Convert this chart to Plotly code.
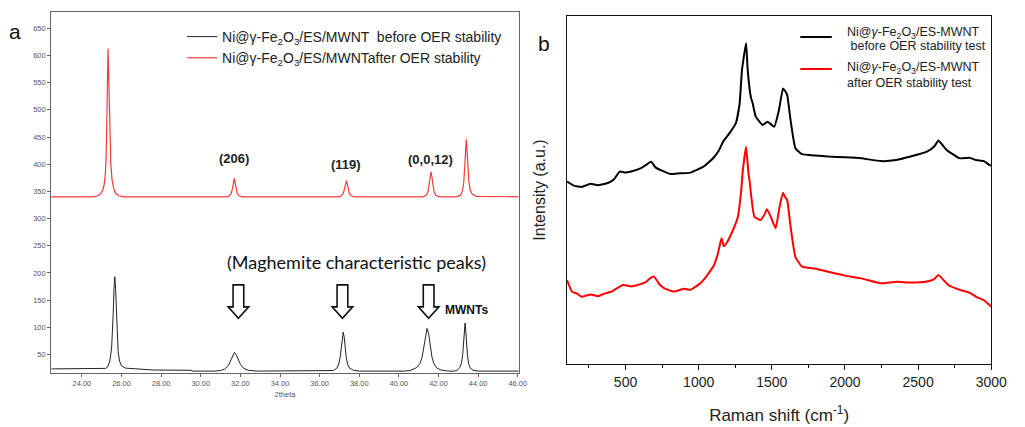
import plotly.graph_objects as go

# ---------------- Panel a : XRD ----------------
xrd_before_x = [22.45, 24.5, 25.2, 25.3, 25.41, 25.5, 25.54, 25.58, 25.62, 25.66, 25.70, 25.74, 25.78, 25.83, 25.9, 26.0, 26.2,
                27.5, 27.6, 29.5, 29.6, 30.7, 31.0, 31.2, 31.4, 31.5, 31.6, 31.7, 31.8, 31.9, 32.0, 32.15, 32.4, 32.8,
                36.5, 36.7, 36.87, 36.97, 37.04, 37.09, 37.14, 37.19, 37.24, 37.29, 37.34, 37.41, 37.51, 37.7, 38.0,
                40.3, 40.6, 40.9, 41.07, 41.17, 41.27, 41.34, 41.42, 41.5, 41.57, 41.67, 41.77, 41.92, 42.12, 42.5,
                42.8, 42.94, 43.08, 43.16, 43.22, 43.26, 43.30, 43.34, 43.38, 43.42, 43.46, 43.52, 43.6, 43.74, 44.0, 46.05]
xrd_before_y = [23.5, 23.5, 24.5, 27, 38, 62, 85, 125, 170, 193, 170, 125, 85, 55, 38, 29, 25,
                23, 21.5, 21, 19.5, 19.5, 20.5, 23, 30, 38, 48, 54, 49, 40, 32, 25, 21, 19.5,
                19.5, 20.5, 25, 33, 46, 62, 82, 91, 82, 62, 45, 32, 25, 21, 19.5,
                19.5, 21, 26, 34, 45, 65, 85, 98, 88, 68, 45, 33, 25, 21.5, 19.5,
                19.5, 21, 26, 35, 50, 68, 92, 108, 92, 68, 48, 33, 25, 21, 19.5, 19.5]

xrd_after_x = [22.45, 24.6, 24.8, 24.95, 25.05, 25.12, 25.18, 25.22, 25.26, 25.29, 25.32, 25.35, 25.38, 25.42, 25.46, 25.52,
               25.6, 25.7, 25.85, 26.1, 31.3, 31.45, 31.54, 31.6, 31.65, 31.69, 31.73, 31.78, 31.84, 31.93, 32.1,
               36.95, 37.1, 37.2, 37.26, 37.31, 37.35, 37.39, 37.44, 37.5, 37.6, 37.75,
               41.2, 41.38, 41.47, 41.53, 41.58, 41.62, 41.66, 41.71, 41.77, 41.86, 42.05,
               42.9, 43.1, 43.2, 43.27, 43.32, 43.36, 43.4, 43.44, 43.48, 43.53, 43.6, 43.7, 43.9, 46.05]
xrd_after_y = [340, 340, 342, 346, 352, 362, 380, 410, 480, 560, 613, 570, 500, 440, 400, 372,
               356, 347, 342, 340, 340, 342, 347, 355, 366, 374, 366, 355, 346, 342, 340,
               340, 342, 347, 355, 365, 370, 364, 353, 346, 342, 340,
               340, 343, 350, 362, 378, 386, 378, 362, 350, 343, 340,
               340, 343, 350, 365, 395, 425, 446, 425, 395, 368, 352, 345, 341, 340]

hkl_labels = ["(206)", "(119)", "(0,0,12)"]
hkl_x = [31.69, 37.35, 41.58]
hkl_y = [411, 400, 409]
arrow_x = [31.9, 37.15, 41.5]

# ---------------- Panel b : Raman ----------------
raman_before_x = [100, 150, 201, 260, 311, 379, 420, 460, 500, 538, 606, 640, 675, 705, 741, 808, 870, 943, 1032, 1100,
                  1140, 1167, 1212, 1255, 1280, 1296, 1324, 1335, 1356, 1369, 1390, 1437, 1471, 1516, 1549, 1576,
                  1590, 1605, 1628, 1661, 1706, 1800, 1886, 2000, 2111, 2245, 2350, 2448, 2560, 2610, 2639, 2665,
                  2695, 2785, 2850, 2897, 2950, 2987, 3000]
raman_before_y = [52.4, 51.2, 50.9, 51.8, 51.4, 52.0, 53.0, 55.3, 55.0, 55.3, 56.3, 57.2, 58.1, 56.5, 55.7, 54.6, 54.8, 55.0,
                  56.7, 59.2, 61.5, 63.9, 66.4, 69.3, 74.9, 84.5, 92.2, 84.5, 76.8, 74.9, 71.1, 68.7, 69.6, 68.2, 73.0,
                  79.2, 78.5, 77.3, 70.1, 62.0, 60.3, 59.9, 59.6, 59.4, 59.1, 58.3, 58.6, 59.6, 61.0, 62.5, 64.2, 63.0,
                  61.5, 59.1, 59.3, 58.6, 58.3, 57.2, 57.0]

raman_after_x = [100, 134, 170, 201, 260, 313, 360, 404, 482, 540, 583, 640, 670, 695, 730, 763, 830, 900, 943, 1000,
                 1032, 1100, 1130, 1156, 1172, 1190, 1235, 1268, 1290, 1302, 1324, 1340, 1347, 1381, 1425, 1450, 1466,
                 1493, 1526, 1553, 1576, 1590, 1605, 1628, 1661, 1706, 1800, 1886, 2000, 2111, 2245, 2350, 2448, 2560,
                 2610, 2639, 2706, 2785, 2850, 2897, 2950, 3000]
raman_after_y = [24.1, 20.8, 20.2, 19.3, 20.0, 19.5, 20.3, 20.8, 22.7, 22.3, 22.7, 23.6, 24.7, 25.1, 23.0, 21.8, 20.8, 21.6,
                 21.3, 22.8, 24.1, 28.0, 31.5, 36.1, 33.8, 34.7, 38.5, 42.3, 49.5, 55.7, 62.4, 55.0, 52.9, 42.3, 41.4, 43.0,
                 44.5, 42.3, 39.0, 45.2, 49.2, 48.0, 47.1, 39.5, 30.8, 28.0, 27.4, 26.5, 25.4, 24.6, 23.2, 23.6, 23.4,
                 23.7, 24.4, 25.6, 22.7, 21.3, 20.5, 19.3, 18.3, 16.5]

xrd_ticks = [24, 26, 28, 30, 32, 34, 36, 38, 40, 42, 44, 46]
raman_ticks = [500, 1000, 1500, 2000, 2500, 3000]

FONT = "Liberation Sans, Arial, sans-serif"
name_a1 = "Ni@γ-Fe<sub>2</sub>O<sub>3</sub>/ES/MWNT  before OER stability"
name_a2 = "Ni@γ-Fe<sub>2</sub>O<sub>3</sub>/ES/MWNTafter OER stability"
name_b1 = ["Ni@<i>γ</i>-Fe<sub>2</sub>O<sub>3</sub>/ES-MWNT", " before OER stability test"]
name_b2 = ["Ni@<i>γ</i>-Fe<sub>2</sub>O<sub>3</sub>/ES-MWNT", "after OER stability test"]

fig = go.Figure()
fig.add_trace(go.Scatter(x=xrd_before_x, y=xrd_before_y, mode="lines", name=name_a1,
                         line=dict(color="#222222", width=1), xaxis="x", yaxis="y"))
fig.add_trace(go.Scatter(x=xrd_after_x, y=xrd_after_y, mode="lines", name=name_a2,
                         line=dict(color="#f23a3a", width=1.2), xaxis="x", yaxis="y"))
fig.add_trace(go.Scatter(x=raman_before_x, y=raman_before_y, mode="lines", name="before", showlegend=False,
                         line=dict(color="#000000", width=2, shape="spline", smoothing=0.4), xaxis="x2", yaxis="y2"))
fig.add_trace(go.Scatter(x=raman_after_x, y=raman_after_y, mode="lines", name="after", showlegend=False,
                         line=dict(color="#ff0000", width=2, shape="spline", smoothing=0.4), xaxis="x2", yaxis="y2"))

annotations = []
for lab, hx, hy in zip(hkl_labels, hkl_x, hkl_y):
    annotations.append(dict(x=hx, y=hy, xref="x", yref="y", text=f"<b>{lab}</b>", showarrow=False,
                            font=dict(family=FONT, size=13, color="#222")))
annotations.append(dict(x=37.85, y=220, xref="x", yref="y", text="(Maghemite characteristic peaks)",
                        showarrow=False, font=dict(family="Lato, sans-serif", size=18, color="#111")))
annotations.append(dict(x=43.4, y=131, xref="x", yref="y", text="<b>MWNTs</b>", showarrow=False,
                        font=dict(family=FONT, size=12, color="#111")))
annotations.append(dict(x=15 / 1025, y=1 - 18 / 427, xref="paper", yref="paper", text="a", showarrow=False,
                        xanchor="center", font=dict(family=FONT, size=21, color="#111")))
annotations.append(dict(x=553 / 1025, y=1 - 30 / 427, xref="paper", yref="paper", text="b", showarrow=False,
                        xanchor="center", font=dict(family=FONT, size=21, color="#111")))

# panel b legend (drawn manually for exact placement)
shapes = []
leg_colors = ["#000000", "#ff0000"]
leg_line_y = [37, 69]
leg_text_y = [(33, 46), (68, 83)]
for names, col, ly, (t1, t2) in zip([name_b1, name_b2], leg_colors, leg_line_y, leg_text_y):
    shapes.append(dict(type="line", xref="paper", yref="paper", x0=813 / 1025, x1=845 / 1025,
                       y0=1 - ly / 427, y1=1 - ly / 427, line=dict(color=col, width=2)))
    for txt, ty in zip(names, (t1, t2)):
        annotations.append(dict(x=858 / 1025, y=1 - ty / 427, xref="paper", yref="paper", xanchor="left",
                                yanchor="middle", text=txt, showarrow=False,
                                font=dict(family=FONT, size=12.5, color="#222")))

for ax in arrow_x:
    sw, hw = 0.27, 0.52
    top, neck, tip = 178, 137.6, 116.7
    path = (f"M {ax-sw},{top} L {ax+sw},{top} L {ax+sw},{neck} L {ax+hw},{neck} "
            f"L {ax},{tip} L {ax-hw},{neck} L {ax-sw},{neck} Z")
    shapes.append(dict(type="path", path=path, xref="x", yref="y",
                       line=dict(color="#111", width=1.6), fillcolor="white"))

fig.update_layout(
    width=1025, height=427,
    margin=dict(l=0, r=0, t=0, b=0),
    paper_bgcolor="white", plot_bgcolor="white",
    font=dict(family=FONT),
    xaxis=dict(domain=[52 / 1025, 527 / 1025], range=[22.45, 46.05], tickvals=xrd_ticks,
               ticktext=[f"{v:.2f}" for v in xrd_ticks], ticks="outside", ticklen=3, tickcolor="#666",
               showline=True, linecolor="#666", linewidth=1, mirror=True, showgrid=False, zeroline=False,
               tickfont=dict(size=7.5, color="#555"), title=dict(text="2theta", font=dict(size=7.5, color="#555"),
                                                                   standoff=4),
               anchor="y"),
    yaxis=dict(domain=[1 - 373 / 427, 1 - 12 / 427], range=[16, 680], dtick=50, tick0=0,
               ticks="outside", ticklen=3, tickcolor="#666", showline=True, linecolor="#666", linewidth=1,
               mirror=True, showgrid=False, zeroline=False, tickfont=dict(size=7.5, color="#555"), anchor="x"),
    xaxis2=dict(domain=[576 / 1025, 1007 / 1025], range=[100, 3000], tickvals=raman_ticks, ticks="outside",
                ticklen=5, tickcolor="#111", showline=True, linecolor="#111", linewidth=1.2, mirror=True,
                showgrid=False, zeroline=False, tickfont=dict(size=14, color="#222"),
                minor=dict(dtick=250, tick0=0, ticks="outside", ticklen=3, tickcolor="#111"),
                title=dict(text="Raman shift (cm<sup>-1</sup>)", font=dict(size=17, color="#222"), standoff=20),
                anchor="y2"),
    yaxis2=dict(domain=[1 - 364 / 427, 1 - 16 / 427], range=[0, 100], showticklabels=False, ticks="",
                showline=True, linecolor="#111", linewidth=1.2, mirror=True, showgrid=False, zeroline=False,
                title=dict(text="Intensity (a.u.)", font=dict(size=16, color="#222"), standoff=16),
                anchor="x2"),
    showlegend=True,
    legend=dict(x=185 / 1025, y=1 - 21 / 427, xanchor="left", yanchor="top", bgcolor="rgba(255,255,255,0)",
                font=dict(family=FONT, size=14, color="#222"), tracegroupgap=0),
    annotations=annotations,
    shapes=shapes,
)

fig.write_html("out.html")
